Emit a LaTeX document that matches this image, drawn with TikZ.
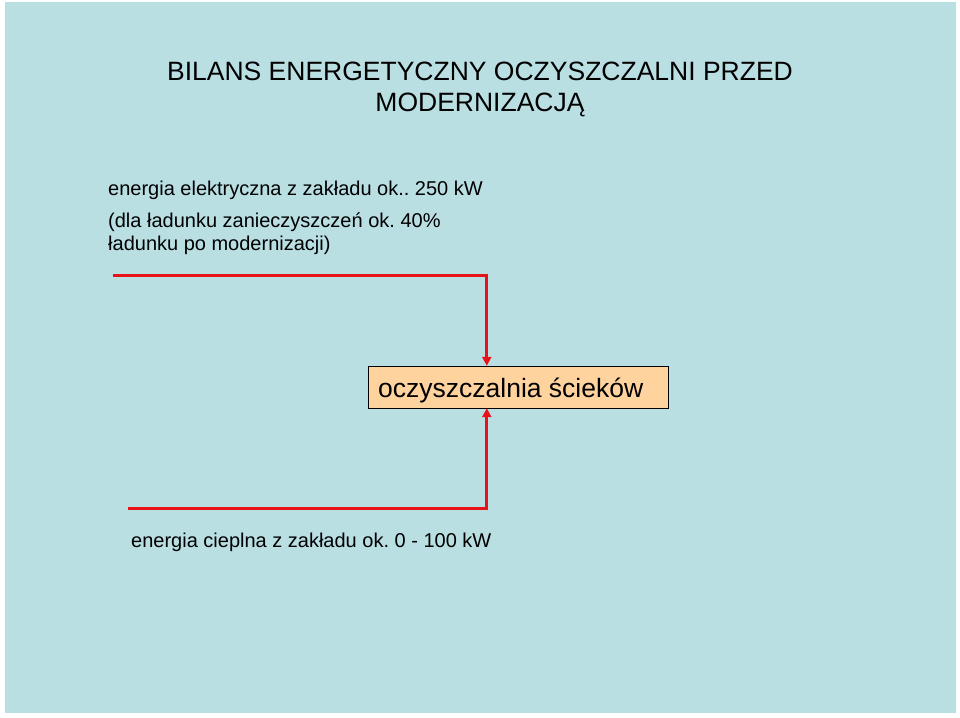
\documentclass[tikz,border=0pt]{standalone}
\usepackage{fontspec}
\setmainfont{Liberation Sans}
\usetikzlibrary{arrows.meta, positioning, calc}
\definecolor{slidecolor}{RGB}{185,223,227}
\definecolor{plantcolor}{RGB}{255,211,158}
\definecolor{energycolor}{RGB}{232,18,24}
\frenchspacing

\begin{document}
\begin{tikzpicture}[
    x=1pt, y=-1pt,
    title/.style={font=\fontsize{26.5}{31}\selectfont, align=center, inner sep=0pt},
    label/.style={font=\fontsize{20}{22.5}\selectfont, align=left, inner sep=0pt},
    plant/.style={draw, thin, fill=plantcolor, minimum width=300pt, minimum height=42pt, inner sep=0pt, font=\fontsize{26.5}{31}\selectfont},
    arrow/.style={-{Triangle[length=9pt, width=9pt]}, line width=3pt, energycolor}
]
    \useasboundingbox (0,0) rectangle (960,717);
    % Slide background
    \fill[slidecolor] (5,2) rectangle (956,713);

    % Title
    \node[title, anchor=north] (head) at (480,62) {BILANS ENERGETYCZNY OCZYSZCZALNI PRZED\\MODERNIZACJĄ};

    % Inputs
    \node[label, anchor=base west] (elec) at (108,195) {energia elektryczna z zakładu ok.. 250 kW};
    \node[label, anchor=north west] (load) at (108,213) {(dla ładunku zanieczyszczeń ok. 40\%\\ładunku po modernizacji)};
    \node[label, anchor=base west] (heat) at (131,547) {energia cieplna z zakładu ok. 0 - 100 kW};

    % Treatment plant
    \node[plant] (wwtp) at (518,387) {};
    \node[font=\fontsize{26.5}{31}\selectfont, inner sep=0pt, anchor=base west] (wwtptext) at (378,397) {oczyszczalnia ścieków};

    % Energy lines
    \coordinate (elecstart) at (113,275);
    \coordinate (heatstart) at (128,508);
    \draw[arrow] (elecstart) -| ([xshift=119pt]wwtp.north west);
    \draw[arrow] (heatstart) -| ([xshift=119pt]wwtp.south west);
\end{tikzpicture}
\end{document}
